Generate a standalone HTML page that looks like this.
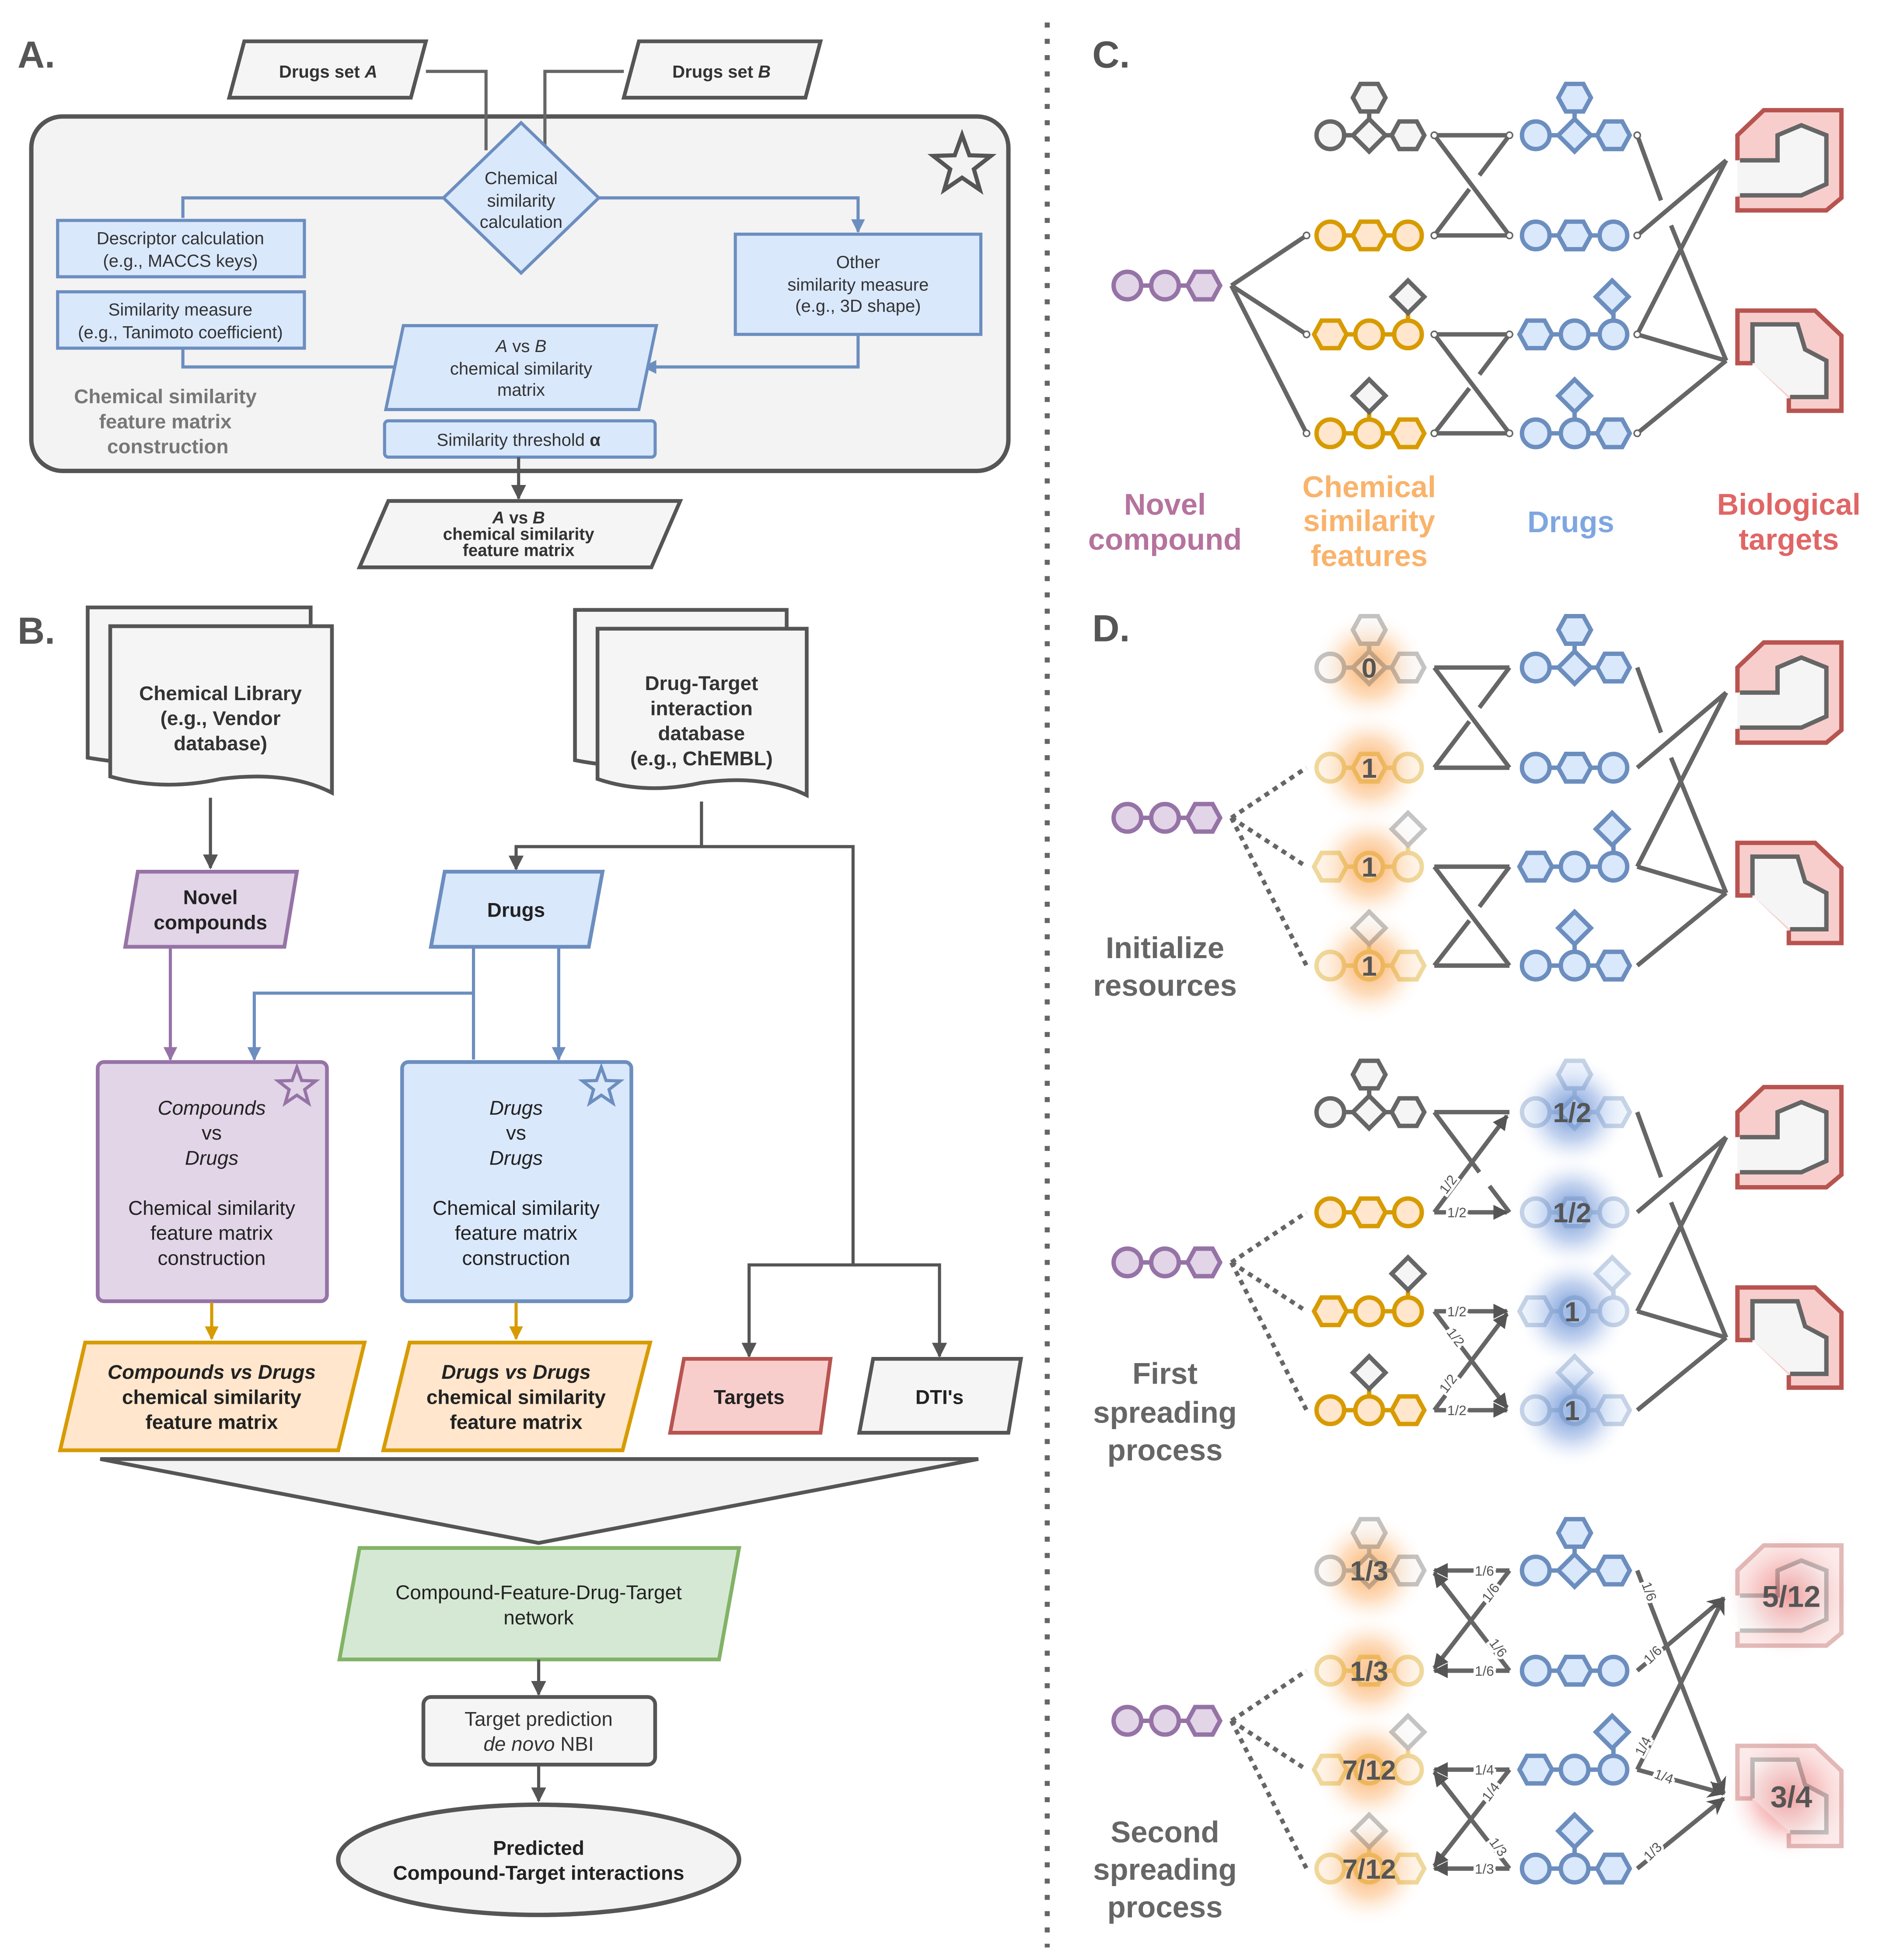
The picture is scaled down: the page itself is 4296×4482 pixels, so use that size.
<!DOCTYPE html>
<html><head><meta charset="utf-8"><style>
html,body{margin:0;padding:0;background:#fff}
svg{display:block}
text{font-family:"Liberation Sans",Arial,sans-serif}
</style></head><body>
<svg xmlns="http://www.w3.org/2000/svg" xmlns:xlink="http://www.w3.org/1999/xlink" width="4296" height="4482" viewBox="0 0 1500 1565" preserveAspectRatio="none">
<defs>
<marker id="ag" viewBox="0 0 10 10" refX="9" refY="5" markerWidth="12" markerHeight="12" markerUnits="userSpaceOnUse" orient="auto"><path d="M0,0 L10,5 L0,10 z" fill="#555"/></marker>
<marker id="ab" viewBox="0 0 10 10" refX="9" refY="5" markerWidth="11" markerHeight="11" markerUnits="userSpaceOnUse" orient="auto"><path d="M0,0 L10,5 L0,10 z" fill="#6c8ebf"/></marker>
<marker id="ap" viewBox="0 0 10 10" refX="9" refY="5" markerWidth="11" markerHeight="11" markerUnits="userSpaceOnUse" orient="auto"><path d="M0,0 L10,5 L0,10 z" fill="#9673a6"/></marker>
<marker id="ao" viewBox="0 0 10 10" refX="9" refY="5" markerWidth="11" markerHeight="11" markerUnits="userSpaceOnUse" orient="auto"><path d="M0,0 L10,5 L0,10 z" fill="#d79b00"/></marker>
<marker id="av" viewBox="0 0 10 10" refX="9" refY="5" markerWidth="14" markerHeight="14" markerUnits="userSpaceOnUse" orient="auto"><path d="M0,0 L10,5 L0,10 L3,5 z" fill="#555"/></marker>
<radialGradient id="go"><stop offset="0" stop-color="#fa9a40" stop-opacity=".8"/><stop offset=".5" stop-color="#fbb46f" stop-opacity=".45"/><stop offset="1" stop-color="#fff" stop-opacity="0"/></radialGradient>
<radialGradient id="gb"><stop offset="0" stop-color="#4f7fcc" stop-opacity=".85"/><stop offset=".5" stop-color="#7ea0dd" stop-opacity=".45"/><stop offset="1" stop-color="#fff" stop-opacity="0"/></radialGradient>
<radialGradient id="gr"><stop offset="0" stop-color="#e84a4a" stop-opacity=".85"/><stop offset=".5" stop-color="#ef8585" stop-opacity=".45"/><stop offset="1" stop-color="#fff" stop-opacity="0"/></radialGradient>
<path id="star" d="M0,-22 L5.3,-7.3 L20.9,-6.8 L8.6,2.8 L12.9,17.8 L0,9 L-12.9,17.8 L-8.6,2.8 L-20.9,-6.8 L-5.3,-7.3 Z"/>
<circle id="c" r="11"/>
<polygon id="h" points="-13,0 -7,-11 7,-11 13,0 7,11 -7,11"/>
<polygon id="d" points="0,-13 13,0 0,13 -13,0"/>
<g id="m1" stroke-width="3.5"><path d="M-31,0 H31 M0,0 V-30" fill="none"/><use href="#c" x="-31"/><use href="#d"/><use href="#h" x="31"/><use href="#h" y="-30"/></g>
<g id="m2" stroke-width="3.5"><path d="M-31,0 H31" fill="none"/><use href="#c" x="-31"/><use href="#h"/><use href="#c" x="31"/></g>
<g id="m3" stroke-width="3.5"><path d="M-31,0 H31 M31,0 V-28" fill="none"/><use href="#h" x="-31"/><use href="#c"/><use href="#c" x="31"/></g>
<g id="m4" stroke-width="3.5"><path d="M-31,0 H31 M0,0 V-28" fill="none"/><use href="#c" x="-31"/><use href="#c"/><use href="#h" x="31"/></g>
<g id="nov" stroke-width="3.5" fill="#e1d5e7" stroke="#9673a6"><path d="M900,228 H961" fill="none"/><use href="#c" x="900" y="228"/><use href="#c" x="930" y="228"/><use href="#h" x="961" y="228"/></g>
<g id="leftMols">
 <use href="#m1" x="1093" y="108" fill="#f5f5f5" stroke="#666"/>
 <use href="#m2" x="1093" y="188" fill="#ffe6cc" stroke="#d79b00"/>
 <use href="#m3" x="1093" y="267" fill="#ffe6cc" stroke="#d79b00"/>
 <use href="#d" x="1124" y="237" fill="#f5f5f5" stroke="#666" stroke-width="3.5"/>
 <use href="#m4" x="1093" y="346" fill="#ffe6cc" stroke="#d79b00"/>
 <use href="#d" x="1093" y="316" fill="#f5f5f5" stroke="#666" stroke-width="3.5"/>
</g>
<g id="blueMols" fill="#dae8fc" stroke="#6c8ebf">
 <use href="#m1" x="1257" y="108"/>
 <use href="#m2" x="1257" y="188"/>
 <use href="#m3" x="1257" y="267"/>
 <use href="#d" x="1287" y="237" stroke-width="3.5"/>
 <use href="#m4" x="1257" y="346"/>
 <use href="#d" x="1257" y="316" stroke-width="3.5"/>
</g>
<g id="hg1" fill="none" stroke="#666" stroke-width="3.5"><path d="M1145,108 H1205 M1145,108 L1205,188 M1145,188 H1205 M1205,108 L1181,140 M1173,151 L1145,188"/></g>
<g id="hg2" fill="none" stroke="#666" stroke-width="3.5"><path d="M1145,267 H1205 M1145,267 L1205,346 M1145,346 H1205 M1205,267 L1181,299 M1173,310 L1145,346"/></g>
<g id="rsl" fill="none" stroke="#666" stroke-width="3.5"><path d="M1307,108 L1326,160 M1334,180 L1378,288 M1307,188 L1378,128 M1307,267 L1378,128 M1307,267 L1378,288 M1307,346 L1378,288"/></g>
<g id="dots" fill="#fff" stroke="#666" stroke-width="1.2"><circle cx="1145" cy="108" r="2.5"/><circle cx="1205" cy="108" r="2.5"/><circle cx="1145" cy="188" r="2.5"/><circle cx="1205" cy="188" r="2.5"/><circle cx="1145" cy="267" r="2.5"/><circle cx="1205" cy="267" r="2.5"/><circle cx="1145" cy="346" r="2.5"/><circle cx="1205" cy="346" r="2.5"/><circle cx="1307" cy="108" r="2.5"/><circle cx="1307" cy="188" r="2.5"/><circle cx="1307" cy="267" r="2.5"/><circle cx="1307" cy="346" r="2.5"/><circle cx="1043" cy="188" r="2.5"/><circle cx="1043" cy="267" r="2.5"/><circle cx="1043" cy="346" r="2.5"/></g>
<g id="tg1" stroke-width="3.5">
 <polygon points="1387,108 1408,88 1470,88 1470,158 1458,168 1387,168" fill="#f8cecc" stroke="none"/>
 <path d="M1387,128 V108 L1408,88 H1470 V158 L1458,168 H1387 V157" fill="none" stroke="#b85450"/>
 <polygon points="1387,128 1419,128 1419,108 1438,100 1458,108 1458,147 1438,156 1387,156" fill="#f5f5f5" stroke="none"/>
 <polyline points="1389,128 1419,128 1419,108 1438,100 1458,108 1458,147 1438,156 1389,156" fill="none" stroke="#666"/>
</g>
<g id="tg2" stroke-width="3.5">
 <polygon points="1387,248 1449,248 1470,268 1470,328 1428,328 1428,318 1399,290 1387,290" fill="#f8cecc" stroke="none"/>
 <path d="M1399,290 H1387 V248 H1449 L1470,268 V328 H1428 V318" fill="none" stroke="#b85450"/>
 <polygon points="1399,290 1399,259 1435,259 1441,279 1458,288 1458,317 1429,317" fill="#f5f5f5" stroke="none"/>
 <polyline points="1399,290 1399,259 1435,259 1441,279 1458,288 1458,317 1429,317" fill="none" stroke="#666"/>
</g>
<g id="solidLeft" fill="none" stroke="#666" stroke-width="3.5"><path d="M983,228 L1043,188 M983,228 L1043,267 M983,228 L1043,346"/></g>
<g id="dotLeft" fill="none" stroke="#666" stroke-width="3.5" stroke-dasharray="4,4"><path d="M983,228 L1043,188 M983,228 L1043,267 M983,228 L1043,346"/></g>
</defs>

<!-- separator -->
<line x1="836" y1="18" x2="836" y2="1555" stroke="#666" stroke-width="4" stroke-dasharray="4,9"/>

<!-- PANEL A -->
<text x="14" y="54" font-size="30" font-weight="bold" fill="#555">A.</text>
<rect x="25" y="93" width="780" height="283" rx="25" fill="#f3f3f3" stroke="#555" stroke-width="3.5"/>
<path d="M340,57 H388 V120 M498,57 H435 V120" fill="none" stroke="#666" stroke-width="2.5"/>
<polygon points="195,33 340,33 328,78 183,78" fill="#f5f5f5" stroke="#555" stroke-width="3"/>
<text x="262" y="62" font-size="14" font-weight="bold" fill="#333" text-anchor="middle">Drugs set <tspan font-style="italic">A</tspan></text>
<polygon points="510,33 655,33 643,78 498,78" fill="#f5f5f5" stroke="#555" stroke-width="3"/>
<text x="576" y="62" font-size="14" font-weight="bold" fill="#333" text-anchor="middle">Drugs set <tspan font-style="italic">B</tspan></text>
<path d="M354,158 H146 V174 M478,158 H685 V185" fill="none" stroke="#6c8ebf" stroke-width="2.5" marker-end="url(#ab)"/>
<polygon points="416,98 478,158 416,218 354,158" fill="#dae8fc" stroke="#6c8ebf" stroke-width="2.5"/>
<g font-size="14" fill="#333" text-anchor="middle"><text x="416" y="147">Chemical</text><text x="416" y="165">similarity</text><text x="416" y="182">calculation</text></g>
<use href="#star" transform="translate(768,132) scale(1.1)" fill="none" stroke="#555" stroke-width="3"/>
<rect x="46" y="176" width="197" height="45" fill="#dae8fc" stroke="#6c8ebf" stroke-width="2.5"/>
<rect x="46" y="233" width="197" height="45" fill="#dae8fc" stroke="#6c8ebf" stroke-width="2.5"/>
<rect x="587" y="187" width="196" height="80" fill="#dae8fc" stroke="#6c8ebf" stroke-width="2.5"/>
<g font-size="14" fill="#333" text-anchor="middle">
<text x="144" y="195">Descriptor calculation</text><text x="144" y="213">(e.g., MACCS keys)</text>
<text x="144" y="252">Similarity measure</text><text x="144" y="270">(e.g., Tanimoto coefficient)</text>
<text x="685" y="214">Other</text><text x="685" y="232">similarity measure</text><text x="685" y="249">(e.g., 3D shape)</text>
</g>
<path d="M146,278 V293 H318 M685,267 V293 H514" fill="none" stroke="#6c8ebf" stroke-width="2.5" marker-end="url(#ab)"/>
<polygon points="322,260 524,260 510,327 308,327" fill="#dae8fc" stroke="#6c8ebf" stroke-width="2.5"/>
<g font-size="14" fill="#333" text-anchor="middle"><text x="416" y="281"><tspan font-style="italic">A</tspan> vs <tspan font-style="italic">B</tspan></text><text x="416" y="299">chemical similarity</text><text x="416" y="316">matrix</text></g>
<rect x="307" y="336" width="216" height="29" rx="3" fill="#dae8fc" stroke="#6c8ebf" stroke-width="2.5"/>
<text x="414" y="356" font-size="14" fill="#333" text-anchor="middle">Similarity threshold <tspan font-weight="bold">α</tspan></text>
<g font-size="16" font-weight="bold" fill="#777" text-anchor="middle"><text x="132" y="322">Chemical similarity</text><text x="132" y="342">feature matrix</text><text x="134" y="362">construction</text></g>
<line x1="414" y1="365" x2="414" y2="398" stroke="#555" stroke-width="2.5" marker-end="url(#ag)"/>
<polygon points="310,400 543,400 520,453 287,453" fill="#f5f5f5" stroke="#555" stroke-width="3"/>
<g font-size="13.5" font-weight="bold" fill="#333" text-anchor="middle"><text x="414" y="418"><tspan font-style="italic">A</tspan> vs <tspan font-style="italic">B</tspan></text><text x="414" y="431">chemical similarity</text><text x="414" y="444">feature matrix</text></g>

<!-- PANEL B -->
<text x="14" y="514" font-size="30" font-weight="bold" fill="#555">B.</text>
<g fill="#f5f5f5" stroke="#555" stroke-width="3">
<path d="M70,485 H248 V605 Q220,595 176,605 Q130,615 70,605 Z"/>
<path d="M88,500 H265 V633 Q230,615 176,622 Q130,632 88,620 Z"/>
<path d="M459,487 H628 V607 Q600,597 560,607 Q510,617 459,607 Z"/>
<path d="M477,502 H644 V635 Q610,618 560,625 Q515,635 477,622 Z"/>
</g>
<g font-size="16" font-weight="bold" fill="#333" text-anchor="middle">
<text x="176" y="559">Chemical Library</text><text x="176" y="579">(e.g., Vendor</text><text x="176" y="599">database)</text>
<text x="560" y="551">Drug-Target</text><text x="560" y="571">interaction</text><text x="560" y="591">database</text><text x="560" y="611">(e.g., ChEMBL)</text>
</g>
<line x1="168" y1="637" x2="168" y2="693" stroke="#555" stroke-width="2.5" marker-end="url(#ag)"/>
<path d="M560,640 V676 H412 V694" fill="none" stroke="#555" stroke-width="2.5" marker-end="url(#ag)"/>
<path d="M560,676 H681 V1010 H598 V1083" fill="none" stroke="#555" stroke-width="2.5" marker-end="url(#ag)"/>
<path d="M681,1010 H750 V1083" fill="none" stroke="#555" stroke-width="2.5" marker-end="url(#ag)"/>
<polygon points="110,696 237,696 227,756 100,756" fill="#e1d5e7" stroke="#9673a6" stroke-width="3"/>
<g font-size="16" font-weight="bold" fill="#222" text-anchor="middle"><text x="168" y="722">Novel</text><text x="168" y="742">compounds</text></g>
<polygon points="355,696 481,696 470,756 344,756" fill="#dae8fc" stroke="#6c8ebf" stroke-width="3"/>
<text x="412" y="732" font-size="16" font-weight="bold" fill="#222" text-anchor="middle">Drugs</text>
<line x1="136" y1="756" x2="136" y2="846" stroke="#9673a6" stroke-width="2.5" marker-end="url(#ap)"/>
<path d="M378,756 V846 M446,756 V846" fill="none" stroke="#6c8ebf" stroke-width="2.5" marker-end="url(#ab)"/>
<path d="M378,793 H203 V846" fill="none" stroke="#6c8ebf" stroke-width="2.5" marker-end="url(#ab)"/>
<rect x="78" y="848" width="183" height="191" rx="5" fill="#e1d5e7" stroke="#9673a6" stroke-width="3"/>
<rect x="321" y="848" width="183" height="191" rx="5" fill="#dae8fc" stroke="#6c8ebf" stroke-width="3"/>
<use href="#star" transform="translate(237,868) scale(0.72)" fill="none" stroke="#9673a6" stroke-width="3.5"/>
<use href="#star" transform="translate(480,868) scale(0.72)" fill="none" stroke="#6c8ebf" stroke-width="3.5"/>
<g font-size="16" fill="#222" text-anchor="middle">
<text x="169" y="890" font-style="italic">Compounds</text><text x="169" y="910">vs</text><text x="169" y="930" font-style="italic">Drugs</text>
<text x="169" y="970">Chemical similarity</text><text x="169" y="990">feature matrix</text><text x="169" y="1010">construction</text>
<text x="412" y="890" font-style="italic">Drugs</text><text x="412" y="910">vs</text><text x="412" y="930" font-style="italic">Drugs</text>
<text x="412" y="970">Chemical similarity</text><text x="412" y="990">feature matrix</text><text x="412" y="1010">construction</text>
</g>
<line x1="169" y1="1040" x2="169" y2="1069" stroke="#d79b00" stroke-width="2.5" marker-end="url(#ao)"/>
<line x1="412" y1="1040" x2="412" y2="1069" stroke="#d79b00" stroke-width="2.5" marker-end="url(#ao)"/>
<polygon points="68,1072 291,1072 270,1158 48,1158" fill="#ffe6cc" stroke="#d79b00" stroke-width="3"/>
<polygon points="327,1072 519,1072 497,1158 306,1158" fill="#ffe6cc" stroke="#d79b00" stroke-width="3"/>
<g font-size="16" font-weight="bold" fill="#222" text-anchor="middle">
<text x="169" y="1101" font-style="italic">Compounds vs Drugs</text><text x="169" y="1121">chemical similarity</text><text x="169" y="1141">feature matrix</text>
<text x="412" y="1101" font-style="italic">Drugs vs Drugs</text><text x="412" y="1121">chemical similarity</text><text x="412" y="1141">feature matrix</text>
</g>
<polygon points="546,1085 663,1085 655,1144 535,1144" fill="#f8cecc" stroke="#b85450" stroke-width="3"/>
<text x="598" y="1121" font-size="16" font-weight="bold" fill="#222" text-anchor="middle">Targets</text>
<polygon points="697,1085 815,1085 805,1144 686,1144" fill="#f5f5f5" stroke="#555" stroke-width="3"/>
<text x="750" y="1121" font-size="16" font-weight="bold" fill="#222" text-anchor="middle">DTI's</text>
<polygon points="80,1165 781,1165 430,1232" fill="#f3f3f3" stroke="#555" stroke-width="3"/>
<polygon points="287,1236 590,1236 574,1325 271,1325" fill="#d5e8d4" stroke="#82b366" stroke-width="3"/>
<g font-size="16" fill="#222" text-anchor="middle"><text x="430" y="1277">Compound-Feature-Drug-Target</text><text x="430" y="1297">network</text></g>
<line x1="430" y1="1325" x2="430" y2="1353" stroke="#555" stroke-width="2.5" marker-end="url(#ag)"/>
<rect x="338" y="1355" width="185" height="54" rx="6" fill="#f5f5f5" stroke="#555" stroke-width="3"/>
<g font-size="16" fill="#333" text-anchor="middle"><text x="430" y="1378">Target prediction</text><text x="430" y="1398"><tspan font-style="italic">de novo</tspan> NBI</text></g>
<line x1="430" y1="1409" x2="430" y2="1438" stroke="#555" stroke-width="2.5" marker-end="url(#ag)"/>
<ellipse cx="430" cy="1485" rx="160" ry="44" fill="#f3f3f3" stroke="#555" stroke-width="3.5"/>
<g font-size="16" font-weight="bold" fill="#222" text-anchor="middle"><text x="430" y="1481">Predicted</text><text x="430" y="1501">Compound-Target interactions</text></g>

<!-- PANEL C -->
<text x="872" y="54" font-size="30" font-weight="bold" fill="#555">C.</text>
<use href="#solidLeft"/><use href="#nov"/><use href="#leftMols"/><use href="#hg1"/><use href="#hg2"/><use href="#blueMols"/><use href="#rsl"/><use href="#dots"/><use href="#tg1"/><use href="#tg2"/>
<g font-size="24" font-weight="bold" text-anchor="middle">
<text x="930" y="411" fill="#b5739d">Novel</text><text x="930" y="439" fill="#b5739d">compound</text>
<text x="1093" y="397" fill="#f9b36b">Chemical</text><text x="1093" y="424" fill="#f9b36b">similarity</text><text x="1093" y="452" fill="#f9b36b">features</text>
<text x="1254" y="425" fill="#7ea6e0">Drugs</text>
<text x="1428" y="411" fill="#e06666">Biological</text><text x="1428" y="439" fill="#e06666">targets</text>
</g>

<!-- PANEL D -->
<text x="872" y="512" font-size="30" font-weight="bold" fill="#555">D.</text>

<!-- D1 -->
<g transform="translate(0,425)">
<use href="#dotLeft"/><use href="#nov"/>
<circle cx="1093" cy="108" r="46" fill="url(#go)"/><circle cx="1093" cy="188" r="46" fill="url(#go)"/><circle cx="1093" cy="267" r="46" fill="url(#go)"/><circle cx="1093" cy="346" r="46" fill="url(#go)"/>
<g opacity="0.38"><use href="#leftMols"/></g>
<g font-size="22" font-weight="bold" fill="#555" text-anchor="middle"><text x="1093" y="116">0</text><text x="1093" y="196">1</text><text x="1093" y="275">1</text><text x="1093" y="354">1</text></g>
<use href="#hg1"/><use href="#hg2"/><use href="#blueMols"/><use href="#rsl"/><use href="#tg1"/><use href="#tg2"/>
</g>
<g font-size="24" font-weight="bold" fill="#666" text-anchor="middle"><text x="930" y="765">Initialize</text><text x="930" y="795">resources</text></g>

<!-- D2 -->
<g transform="translate(0,780)">
<use href="#dotLeft"/><use href="#nov"/><use href="#leftMols"/>
<g fill="none" stroke="#666" stroke-width="3.5">
<path d="M1145,108 H1205 M1145,108 L1181,156 M1189,167 L1205,188"/>
<path d="M1145,188 L1203,111" marker-end="url(#ag)"/>
<path d="M1145,188 H1203" marker-end="url(#ag)"/>
<path d="M1145,267 H1203" marker-end="url(#ag)"/>
<path d="M1145,267 L1203,344" marker-end="url(#ag)"/>
<path d="M1145,346 H1203" marker-end="url(#ag)"/>
<path d="M1145,346 L1203,269" marker-end="url(#ag)"/>
</g>
<g font-size="11" fill="#555" stroke="#fff" stroke-width="4" paint-order="stroke" text-anchor="middle">
<text x="1163" y="192">1/2</text><text x="1163" y="271">1/2</text><text x="1163" y="350">1/2</text>
<text transform="translate(1159,168) rotate(-53)">1/2</text>
<text transform="translate(1159,290) rotate(53)">1/2</text>
<text transform="translate(1159,327) rotate(-53)">1/2</text>
</g>
<circle cx="1255" cy="108" r="46" fill="url(#gb)"/><circle cx="1255" cy="188" r="46" fill="url(#gb)"/><circle cx="1255" cy="267" r="46" fill="url(#gb)"/><circle cx="1255" cy="346" r="46" fill="url(#gb)"/>
<g opacity="0.38"><use href="#blueMols"/></g>
<g font-size="22" font-weight="bold" fill="#555" text-anchor="middle"><text x="1255" y="116">1/2</text><text x="1255" y="196">1/2</text><text x="1255" y="275">1</text><text x="1255" y="354">1</text></g>
<use href="#rsl"/><use href="#tg1"/><use href="#tg2"/>
</g>
<g font-size="24" font-weight="bold" fill="#666" text-anchor="middle"><text x="930" y="1105">First</text><text x="930" y="1136">spreading</text><text x="930" y="1166">process</text></g>

<!-- D3 -->
<g transform="translate(0,1146)">
<use href="#dotLeft"/><use href="#nov"/>
<circle cx="1093" cy="108" r="46" fill="url(#go)"/><circle cx="1093" cy="188" r="46" fill="url(#go)"/><circle cx="1093" cy="267" r="46" fill="url(#go)"/><circle cx="1093" cy="346" r="46" fill="url(#go)"/>
<g opacity="0.38"><use href="#leftMols"/></g>
<g font-size="22" font-weight="bold" fill="#555" text-anchor="middle"><text x="1093" y="116">1/3</text><text x="1093" y="196">1/3</text><text x="1093" y="275">7/12</text><text x="1093" y="354">7/12</text></g>
<g fill="none" stroke="#666" stroke-width="3.5">
<path d="M1205,108 H1145" marker-end="url(#ag)"/>
<path d="M1205,188 H1145" marker-end="url(#ag)"/>
<path d="M1205,188 L1145,110" marker-end="url(#ag)"/>
<path d="M1205,108 L1145,186" marker-end="url(#ag)"/>
<path d="M1205,267 H1145" marker-end="url(#ag)"/>
<path d="M1205,346 H1145" marker-end="url(#ag)"/>
<path d="M1205,346 L1145,269" marker-end="url(#ag)"/>
<path d="M1205,267 L1145,344" marker-end="url(#ag)"/>
</g>
<g font-size="11" fill="#555" stroke="#fff" stroke-width="4" paint-order="stroke" text-anchor="middle">
<text x="1185" y="112">1/6</text><text x="1185" y="192">1/6</text><text x="1185" y="271">1/4</text><text x="1185" y="350">1/3</text>
<text transform="translate(1193,128) rotate(-53)">1/6</text>
<text transform="translate(1193,172) rotate(53)">1/6</text>
<text transform="translate(1193,287) rotate(-53)">1/4</text>
<text transform="translate(1193,331) rotate(53)">1/3</text>
</g>
<use href="#blueMols"/>
<circle cx="1428" cy="128" r="52" fill="url(#gr)"/><circle cx="1428" cy="288" r="52" fill="url(#gr)"/>
<g opacity="0.4"><use href="#tg1"/><use href="#tg2"/></g>
<g fill="none" stroke="#666" stroke-width="3.5">
<path d="M1307,108 L1376,286" marker-end="url(#av)"/>
<path d="M1307,188 L1376,130" marker-end="url(#av)"/>
<path d="M1307,267 L1376,130" marker-end="url(#av)"/>
<path d="M1307,267 L1376,286" marker-end="url(#av)"/>
<path d="M1307,346 L1376,290" marker-end="url(#av)"/>
</g>
<g font-size="11" fill="#555" stroke="#fff" stroke-width="4" paint-order="stroke" text-anchor="middle">
<text transform="translate(1313,126) rotate(70)">1/6</text>
<text transform="translate(1322,178) rotate(-45)">1/6</text>
<text transform="translate(1315,250) rotate(-63)">1/4</text>
<text transform="translate(1327,276) rotate(20)">1/4</text>
<text transform="translate(1322,335) rotate(-45)">1/3</text>
</g>
<g font-size="24" font-weight="bold" fill="#555" text-anchor="middle"><text x="1430" y="137">5/12</text><text x="1430" y="297">3/4</text></g>
</g>
<g font-size="24" font-weight="bold" fill="#666" text-anchor="middle"><text x="930" y="1471">Second</text><text x="930" y="1501">spreading</text><text x="930" y="1531">process</text></g>
</svg>
</body></html>
